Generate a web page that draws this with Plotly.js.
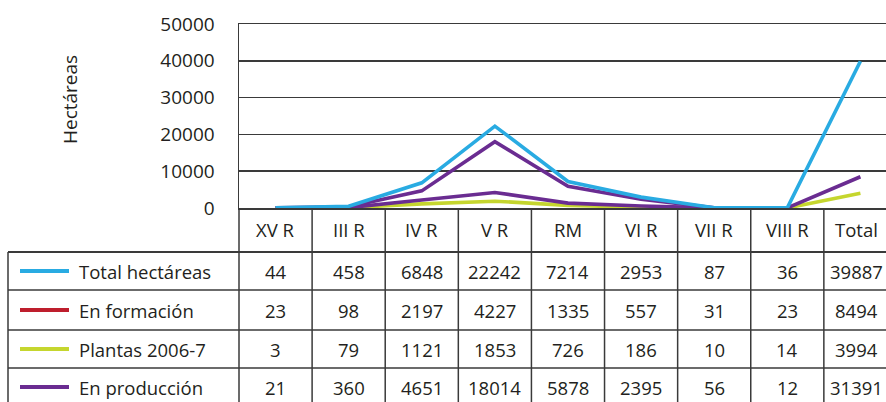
<!DOCTYPE html>
<html>
<head>
<meta charset="utf-8">
<script src="https://cdn.plot.ly/plotly-3.0.1.min.js"></script>
<style>html,body{margin:0;padding:0;background:#fff;}#chart{width:886px;height:402px;}</style>
</head>
<body>
<div id="chart"></div>
<script>
// ---- data ----
const categories = ["XV R", "III R", "IV R", "V R", "RM", "VI R", "VII R", "VIII R", "Total"];
const seriesNames = ["Total hectáreas", "En formación", "Plantas 2006-7", "En producción"];
const totalHectareas = [44, 458, 6848, 22242, 7214, 2953, 87, 36, 39887];
const enFormacion = [23, 98, 2197, 4227, 1335, 557, 31, 23, 8494];
const plantas2006 = [3, 79, 1121, 1853, 726, 186, 10, 14, 3994];
const enProduccion = [21, 360, 4651, 18014, 5878, 2395, 56, 12, 31391];
const yTicks = [0, 10000, 20000, 30000, 40000, 50000];

// ---- styling / layout constants ----
const W = 886, H = 402;
const L = 239, T = 24, B = 208;           // plot area pixels
const plotW = W - L, plotH = B - T;
const xRange = [-0.5, 8.35];
const keyColors = ["#29abe2", "#be1e2d", "#c5d62e", "#6a2c91"];
const lineColors = ["#29abe2", "#6a2c91", "#c5d62e", "#6a2c91"]; // as drawn in the reference plot
const txt = "#231f20", gridC = "#3a3a3a";
const FONT = "Open Sans, Noto Sans, sans-serif";
const FS = 18.5, FS_AX = 19;

const px2paperX = px => (px - L) / plotW;
const px2paperY = py => (B - py) / plotH;
const catBoundaryPaper = i => ((i - 0.5) - xRange[0]) / (xRange[1] - xRange[0]);

const rowLines = [252, 290, 330, 368];
const rowCenters = [271, 310, 349, 387];
const tableLeft = 8;
const bottomPx = 410;

const allSeries = [totalHectareas, enFormacion, plantas2006, enProduccion];

// traces (drawing order: green, purple formación, purple producción, blue)
const traces = [
  {x: categories, y: plantas2006, color: lineColors[2], name: seriesNames[2]},
  {x: categories, y: enFormacion, color: lineColors[1], name: seriesNames[1]},
  {x: categories.slice(0, 8), y: enProduccion.slice(0, 8), color: lineColors[3], name: seriesNames[3]},
  {x: categories, y: totalHectareas, color: lineColors[0], name: seriesNames[0]}
].map(s => ({
  type: "scatter", mode: "lines", x: s.x, y: s.y, name: s.name,
  line: {color: s.color, width: 3.6}, hoverinfo: "skip", cliponaxis: false
}));

const shapes = [];
const annotations = [];
const lineStyle = {color: gridC, width: 1.5};
const colShift = i => (i === categories.length - 1 ? -4 : 0); // last column is cut by the page edge

// vertical column lines (header + body)
for (let i = 0; i <= categories.length; i++) {
  const xp = catBoundaryPaper(i);
  if (xp > 1.001) continue;
  shapes.push({type: "line", xref: "paper", yref: "paper", x0: xp, x1: xp,
    y0: 0, y1: px2paperY(bottomPx), line: lineStyle, layer: "above"});
}
// left border of label column
shapes.push({type: "line", xref: "paper", yref: "paper", x0: px2paperX(tableLeft), x1: px2paperX(tableLeft),
  y0: px2paperY(rowLines[0]), y1: px2paperY(bottomPx), line: lineStyle});
// horizontal row lines
rowLines.forEach((py, k) => {
  shapes.push({type: "line", xref: "paper", yref: "paper", x0: px2paperX(tableLeft), x1: 1,
    y0: px2paperY(py), y1: px2paperY(py), line: {color: gridC, width: k === 0 ? 2 : 1.5}});
});
// legend keys
keyColors.forEach((c, k) => {
  shapes.push({type: "line", xref: "paper", yref: "paper", x0: px2paperX(20), x1: px2paperX(69),
    y0: px2paperY(rowCenters[k]), y1: px2paperY(rowCenters[k]), line: {color: c, width: 4}});
  annotations.push({xref: "paper", yref: "paper", x: px2paperX(77), y: px2paperY(rowCenters[k]),
    text: seriesNames[k], showarrow: false, xanchor: "left", yanchor: "middle",
    font: {family: FONT, size: FS, color: txt}});
});
// header labels
categories.forEach((c, i) => {
  annotations.push({xref: "x", yref: "paper", x: c, y: px2paperY(229), text: c, showarrow: false,
    xanchor: "center", yanchor: "middle", xshift: colShift(i), font: {family: FONT, size: FS, color: txt}});
});
// table values
allSeries.forEach((arr, k) => {
  arr.forEach((v, i) => {
    annotations.push({xref: "x", yref: "paper", x: categories[i], y: px2paperY(rowCenters[k]),
      text: String(v), showarrow: false, xanchor: "center", yanchor: "middle", xshift: colShift(i),
      font: {family: FONT, size: FS, color: txt}});
  });
});
// y-axis title
annotations.push({xref: "paper", yref: "paper", x: px2paperX(70), y: px2paperY(100), text: "Hectáreas",
  textangle: -90, showarrow: false, xanchor: "center", yanchor: "middle",
  font: {family: FONT, size: FS_AX, color: txt}});

const layout = {
  width: W, height: H,
  margin: {l: L, r: 0, t: T, b: H - B, pad: 0},
  paper_bgcolor: "#fff", plot_bgcolor: "#fff",
  showlegend: false,
  xaxis: {type: "category", categoryarray: categories, range: xRange, showticklabels: false,
    ticks: "", showgrid: false, zeroline: false, showline: true, mirror: true,
    linecolor: gridC, linewidth: 1.5, fixedrange: true},
  yaxis: {range: [0, 50000], tickvals: yTicks, ticktext: yTicks.map(String), showgrid: true,
    gridcolor: gridC, gridwidth: 1.5, zeroline: false, showline: true, linecolor: gridC, linewidth: 1.5,
    ticks: "", ticklabelstandoff: 19, tickfont: {family: FONT, size: FS_AX, color: txt}, fixedrange: true},
  shapes: shapes,
  annotations: annotations
};

Plotly.newPlot("chart", traces, layout, {displayModeBar: false, staticPlot: true});
</script>
</body>
</html>
